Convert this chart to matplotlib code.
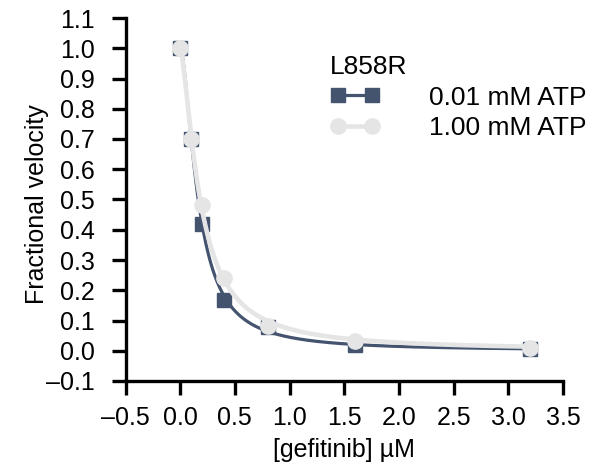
import numpy as np
import matplotlib
matplotlib.use("Agg")
import matplotlib.pyplot as plt

plt.rcParams['font.family'] = ['Liberation Sans', 'DejaVu Sans']

conc = [0.0, 0.1, 0.2, 0.4, 0.8, 1.6, 3.2]
v_low_atp = [1.0, 0.70, 0.42, 0.168, 0.08, 0.02, 0.007]
v_high_atp = [1.0, 0.70, 0.483, 0.24, 0.083, 0.033, 0.008]
labels = ["0.01 mM ATP", "1.00 mM ATP"]
legend_title = "L858R"
colors = ["#44546f", "#e5e5e5"]
markers = ["s", "o"]

def hill_fit(x, y):
    x = np.asarray(x); y = np.asarray(y)
    best = None
    for ic in np.linspace(0.05, 0.5, 181):
        for h in np.linspace(0.8, 2.5, 171):
            pred = 1.0 / (1.0 + (x / ic) ** h)
            err = np.sum((pred - y) ** 2)
            if best is None or err < best[0]:
                best = (err, ic, h)
    return best[1], best[2]

FS = 18
LFS = 19
fig = plt.figure(figsize=(5.93, 4.67), dpi=100)
ax = fig.add_axes([125.5 / 593, 1 - 381 / 467, (563 - 125.5) / 593, (381 - 18) / 467])

xs = np.linspace(0, 3.2, 400)
handles = []
for yv, lab, c, m, lw, ms in zip([v_low_atp, v_high_atp], labels, colors, markers,
                                 [2.3, 3.3], [9.5, 11]):
    ic, h = hill_fit(conc, yv)
    ax.plot(xs, 1.0 / (1.0 + (xs / ic) ** h), color=c, lw=lw, solid_capstyle='round')
    ax.plot(conc, yv, ls='none', marker=m, color=c, ms=ms)
    hd, = ax.plot([], [], color=c, lw=lw, marker=m, ms=ms, label=lab)
    handles.append(hd)

xt = np.arange(-0.5, 3.51, 0.5)
yt = np.arange(-0.1, 1.101, 0.1)
ax.set_xlim(-0.5, 3.5)
ax.set_ylim(-0.1, 1.1)
ax.set_xticks(xt)
ax.set_yticks(yt)
ax.set_xticklabels([f"{t:.1f}".replace('-', '\u2013') for t in xt])
ax.set_yticklabels([f"{t:.1f}".replace('-', '\u2013') if abs(t) > 1e-9 else "0.0" for t in yt])
for s in ['top', 'right']:
    ax.spines[s].set_visible(False)
for s in ['left', 'bottom']:
    ax.spines[s].set_linewidth(2.4)
ax.tick_params(axis='both', direction='out', length=10, width=2.4, labelsize=FS)
ax.tick_params(axis='y', pad=12)
ax.tick_params(axis='x', pad=8)
ax.set_xlabel("[gefitinib] \u00b5M", fontsize=FS, labelpad=6)
ax.set_ylabel("Fractional velocity", fontsize=FS)
ax.yaxis.set_label_coords(-0.175, 0.4876)

leg = ax.legend(handles=handles, title=legend_title, loc='upper left',
                bbox_to_anchor=(330 / 593, 1 - 55 / 467), bbox_transform=fig.transFigure,
                frameon=False, fontsize=LFS, borderpad=0, borderaxespad=0,
                title_fontsize=LFS, numpoints=2, handlelength=1.88,
                handletextpad=1.88, labelspacing=0.25)
leg._legend_box.align = "left"

fig.savefig("out.png", dpi=100)
